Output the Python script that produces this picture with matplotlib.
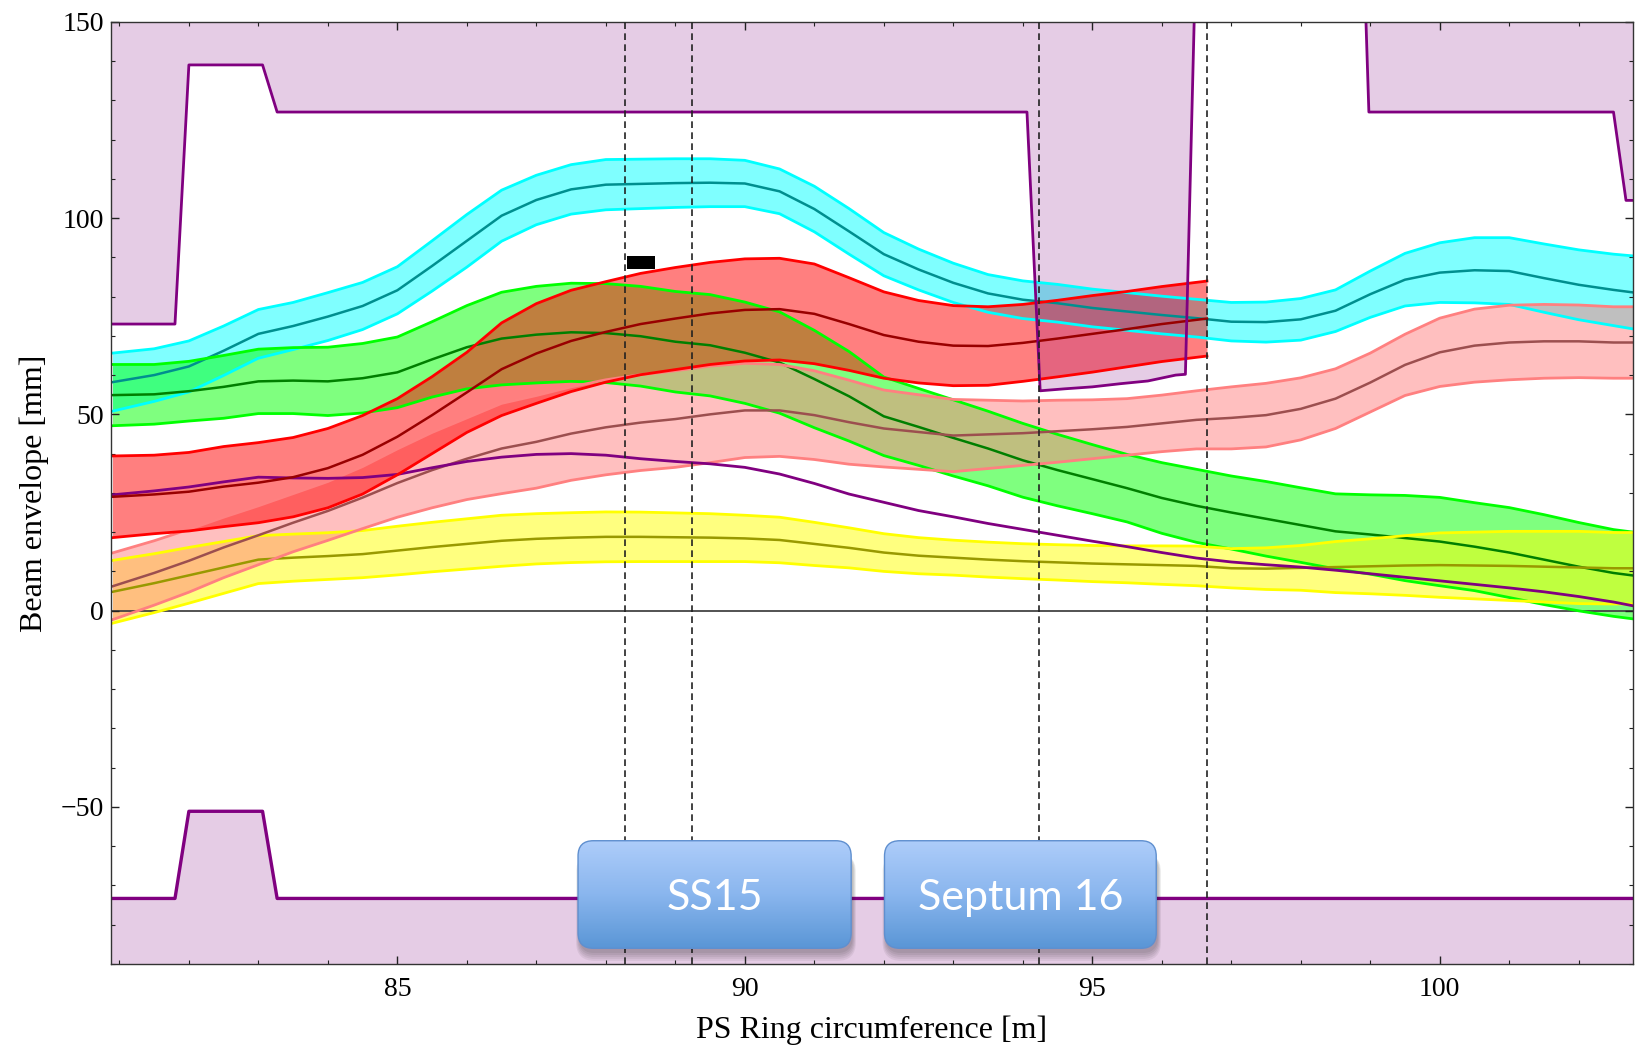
import numpy as np
import matplotlib
matplotlib.use("Agg")
import matplotlib.pyplot as plt
from matplotlib.patches import FancyBboxPatch
from matplotlib.colors import LinearSegmentedColormap
from matplotlib.ticker import MultipleLocator

plt.rcParams['font.family'] = ['Liberation Serif', 'DejaVu Serif']

# position along the ring [m]
s = [80.9, 81.5, 82.0, 82.5, 83.0, 83.5, 84.0, 84.5, 85.0, 85.5,
     86.0, 86.5, 87.0, 87.5, 88.0, 88.5, 89.0, 89.5, 90.0, 90.5,
     91.0, 91.5, 92.0, 92.5, 93.0, 93.5, 94.0, 94.5, 95.0, 95.5,
     96.0, 96.5, 97.0, 97.5, 98.0, 98.5, 99.0, 99.5, 100.0, 100.5,
     101.0, 101.5, 102.0, 102.5, 102.85]

# beam envelopes: centre and half width [mm]
cyan_mid = [58.2, 60.0, 62.2, 66.2, 70.5, 72.5, 74.9, 77.6, 81.6, 87.8,
            94.2, 100.6, 104.6, 107.3, 108.5, 108.7, 108.9, 109.0, 108.8, 106.8,
            102.3, 96.6, 90.8, 86.9, 83.5, 80.8, 79.2, 78.3, 77.1, 76.2,
            75.3, 74.5, 73.6, 73.5, 74.2, 76.4, 80.6, 84.3, 86.1, 86.7,
            86.5, 84.7, 83.0, 81.7, 80.9]
cyan_hw = [7.4, 6.7, 6.5, 6.3, 6.2, 6.0, 6.1, 6.0, 6.0, 6.4,
           6.7, 6.5, 6.3, 6.3, 6.4, 6.3, 6.2, 6.1, 5.9, 5.7,
           5.8, 5.8, 5.5, 5.2, 5.0, 4.8, 4.8, 4.8, 4.8, 4.8,
           4.8, 4.8, 4.9, 5.1, 5.3, 5.3, 5.9, 6.7, 7.6, 8.3,
           8.5, 8.7, 8.9, 9.1, 9.35]

green_mid = [54.9, 55.1, 55.9, 57.0, 58.4, 58.6, 58.4, 59.2, 60.7, 64.0,
             67.1, 69.3, 70.3, 70.9, 70.7, 69.9, 68.5, 67.6, 65.7, 63.2,
             59.0, 54.6, 49.5, 46.8, 44.0, 41.3, 38.3, 35.8, 33.5, 31.2,
             28.7, 26.7, 25.0, 23.4, 21.8, 20.2, 19.4, 18.5, 17.6, 16.3,
             14.8, 13.0, 11.2, 9.6, 8.8]
green_hw = [7.8, 7.6, 7.6, 8.0, 8.2, 8.4, 8.7, 8.85, 9.0, 9.6,
            10.6, 11.8, 12.3, 12.5, 12.6, 12.7, 12.8, 12.9, 12.9, 12.9,
            12.4, 11.4, 10.0, 9.8, 9.7, 9.5, 9.4, 9.1, 8.8, 8.6,
            9.0, 9.3, 9.3, 9.5, 9.5, 9.55, 10.1, 10.85, 11.25, 11.2,
            11.45, 11.45, 11.25, 11.05, 11.05]

yellow_mid = [4.8, 7.0, 9.0, 11.0, 13.0, 13.5, 13.9, 14.4, 15.3, 16.2,
              17.0, 17.8, 18.3, 18.6, 18.8, 18.8, 18.7, 18.6, 18.4, 18.0,
              17.0, 16.0, 14.8, 14.0, 13.5, 13.0, 12.6, 12.3, 12.0, 11.8,
              11.6, 11.4, 10.8, 10.7, 10.9, 11.1, 11.3, 11.5, 11.6, 11.5,
              11.4, 11.2, 11.0, 10.8, 10.8]
yellow_hw = [8.0, 7.5, 7.1, 6.6, 6.1, 6.0, 5.95, 6.0, 6.2, 6.3,
             6.4, 6.5, 6.4, 6.35, 6.35, 6.3, 6.2, 6.1, 5.9, 5.8,
             5.5, 5.1, 4.8, 4.6, 4.45, 4.45, 4.45, 4.5, 4.6, 4.7,
             4.9, 5.05, 5.0, 5.3, 5.7, 6.5, 7.0, 7.6, 8.2, 8.5,
             8.8, 9.0, 9.2, 9.1, 9.1]

pink_mid = [6.2, 9.6, 12.7, 16.1, 19.2, 22.4, 25.4, 28.8, 32.5, 35.8,
            38.7, 41.3, 43.0, 45.1, 46.7, 47.9, 48.8, 50.0, 51.0, 51.0,
            49.8, 48.0, 46.4, 45.5, 44.6, 44.9, 45.2, 45.7, 46.2, 46.8,
            47.7, 48.6, 49.1, 49.8, 51.4, 54.0, 58.1, 62.6, 65.8, 67.5,
            68.3, 68.6, 68.6, 68.3, 68.3]
pink_hw = [8.5, 8.2, 8.0, 7.7, 7.5, 7.4, 7.5, 7.9, 8.7, 9.6,
           10.4, 11.5, 11.8, 11.9, 12.1, 12.2, 12.3, 12.3, 12.0, 11.7,
           11.3, 10.7, 9.8, 9.5, 9.2, 8.7, 8.2, 7.9, 7.5, 7.2,
           7.2, 7.4, 7.9, 8.1, 7.9, 7.6, 7.5, 7.8, 8.7, 9.3,
           9.5, 9.4, 9.25, 9.1, 9.1]

# the extracted beam stops at the end of septum 16
red_s = s[:31] + [96.65]
red_mid = [29.0, 29.6, 30.3, 31.6, 32.6, 34.0, 36.3, 39.7, 44.3, 49.8,
           55.6, 61.5, 65.5, 68.7, 71.0, 73.0, 74.4, 75.7, 76.6, 76.8,
           75.6, 73.0, 70.2, 68.5, 67.5, 67.4, 68.2, 69.3, 70.5, 71.7,
           73.0, 74.4]
red_hw = [10.4, 10.0, 10.0, 10.2, 10.2, 10.1, 10.1, 10.0, 9.7, 9.8,
          10.2, 11.8, 12.7, 12.9, 12.8, 12.9, 13.0, 13.0, 13.0, 12.95,
          12.7, 11.8, 11.0, 10.5, 10.2, 10.0, 9.8, 9.75, 9.75, 9.6,
          9.55, 9.55]

purple_orbit = [29.5, 30.5, 31.5, 32.8, 34.0, 33.8, 33.7, 33.9, 34.7, 36.4,
                38.0, 39.1, 39.8, 40.0, 39.6, 38.7, 38.0, 37.4, 36.5, 34.8,
                32.4, 29.7, 27.6, 25.5, 23.9, 22.2, 20.7, 19.2, 17.7, 16.3,
                14.8, 13.4, 12.4, 11.7, 11.1, 10.3, 9.4, 8.5, 7.6, 6.7,
                5.8, 4.8, 3.6, 2.2, 1.0]

# vacuum chamber aperture
aper_s = [80.8, 81.8, 82.0, 83.06, 83.27, 94.06, 94.25, 94.6, 95.0, 95.4,
          95.8, 96.2, 96.34, 96.48, 98.92, 98.98, 102.5, 102.68, 102.9]
aper_top = [73, 73, 139, 139, 127, 127, 56, 56.5, 57, 57.8,
            58.5, 60, 60.2, 160, 160, 127, 127, 104.5, 104.5]
aper_bot_s = [80.8, 81.8, 82.0, 83.06, 83.27, 102.9]
aper_bot = [-73.3, -73.3, -51.1, -51.1, -73.3, -73.3]

element_edges = [88.27, 89.24, 94.24, 96.65]
marker_s = [88.30, 88.71]
marker_y = [87.0, 90.4]
elements = ["SS15", "Septum 16"]
element_s = [(87.60, 91.53), (92.01, 95.92)]

fig = plt.figure(figsize=(16.4, 10.45), dpi=100)
ax = fig.add_axes([0.0675, 0.0775, 0.9282, 0.9017])

s_arr = np.array(s)


def band(x, mid, hw, rgb, edge, centre):
    x = np.asarray(x)
    mid = np.asarray(mid)
    hw = np.asarray(hw)
    ax.fill_between(x, mid - hw, mid + hw, color=rgb + (0.5,), lw=0)
    ax.plot(x, mid + hw, color=edge, lw=2.0)
    ax.plot(x, mid - hw, color=edge, lw=2.0)
    ax.plot(x, mid, color=centre, lw=1.8)


band(s_arr, cyan_mid, cyan_hw, (0, 1, 1), '#00ffff', '#008f8f')
band(s_arr, green_mid, green_hw, (0, 1, 0), '#00ff00', '#007f00')
band(s_arr, yellow_mid, yellow_hw, (1, 1, 0), '#ffff00', '#999900')
band(s_arr, pink_mid, pink_hw, (1, 0.5, 0.5), '#ff8080', '#9c4f4f')
ax.plot(s_arr, purple_orbit, color='#800080', lw=2.0)
band(red_s, red_mid, red_hw, (1, 0, 0), '#ff0000', '#990000')

# aperture
ax.fill_between(aper_s, aper_top, 400, color=(0.5, 0, 0.5, 0.2), lw=0)
ax.plot(aper_s, aper_top, color='#800080', lw=2.0)
ax.fill_between(aper_bot_s, aper_bot, -400, color=(0.5, 0, 0.5, 0.2), lw=0)
ax.plot(aper_bot_s, aper_bot, color='#800080', lw=2.4)

for xe in element_edges:
    ax.axvline(xe, color='#222222', lw=1.2, dashes=(4, 2.6), zorder=3)

ax.fill_between(marker_s, marker_y[0], marker_y[1], color='black', lw=0, zorder=3)
ax.axhline(0, color='#444444', lw=1.3, zorder=1.5)

# element boxes
cmap = LinearSegmentedColormap.from_list('box', ['#aecdfa', '#8ab6ee', '#5a96d6'])
grad = np.linspace(0, 1, 256).reshape(-1, 1)
aspect = 69.51 / 3.926
y0, y1 = -86.0, -58.6
for name, (x0, x1) in zip(elements, element_s):
    for k in range(5):
        dx = 0.012 * k
        dy = 0.5 * k
        sh = FancyBboxPatch((x0 - dx + 0.02, y0 - 1.2 - dy), x1 - x0 + 2 * dx,
                            y1 - y0 - 2.0 + dy,
                            boxstyle='round,pad=0,rounding_size=%.3f' % (0.22 + dx),
                            mutation_aspect=aspect, facecolor='#202020', alpha=0.07,
                            lw=0, zorder=5)
        ax.add_patch(sh)
    box = FancyBboxPatch((x0, y0), x1 - x0, y1 - y0,
                         boxstyle='round,pad=0,rounding_size=0.22',
                         mutation_aspect=aspect, facecolor='none',
                         edgecolor='#5f8fcf', lw=1.0, zorder=7)
    ax.add_patch(box)
    im = ax.imshow(grad, extent=[x0, x1, y0, y1], aspect='auto', cmap=cmap,
                   origin='upper', zorder=6, interpolation='bilinear')
    im.set_clip_path(box)
    ax.text((x0 + x1) / 2, (y0 + y1) / 2 - 0.8, name, color='white',
            fontsize=31, family=['Lato', 'DejaVu Sans'], ha='center',
            va='center', zorder=8)

ax.set_xlim(80.875, 102.78)
ax.set_ylim(-90, 150)
ax.xaxis.set_major_locator(MultipleLocator(5))
ax.xaxis.set_minor_locator(MultipleLocator(1))
ax.yaxis.set_major_locator(MultipleLocator(50))
ax.yaxis.set_minor_locator(MultipleLocator(10))
ax.tick_params(which='both', direction='in', top=True, right=True,
               color='#222222', labelsize=20)
ax.tick_params(which='major', length=6, width=1.0)
ax.tick_params(which='minor', length=3, width=0.8)
ax.tick_params(axis='x', pad=9)
ax.tick_params(axis='y', pad=5)
for sp in ax.spines.values():
    sp.set_color('#333333')
    sp.set_linewidth(1.0)

ax.set_xlabel("PS Ring circumference [m]", fontsize=23, labelpad=10)
ax.set_ylabel("Beam envelope [mm]", fontsize=23, labelpad=8)

fig.savefig("out.png", dpi=100)
